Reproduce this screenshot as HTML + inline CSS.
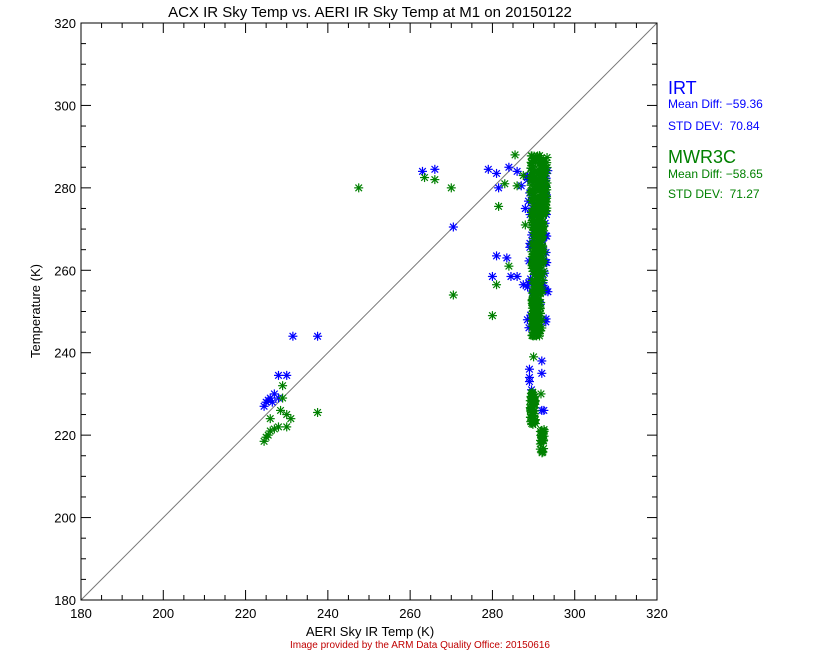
<!DOCTYPE html>
<html><head><meta charset="utf-8"><style>
body{margin:0;background:#fff;}
svg{display:block;font-family:"Liberation Sans",sans-serif;}
</style></head><body>
<svg id="s" width="840" height="650" xmlns="http://www.w3.org/2000/svg">
<rect width="840" height="650" fill="#fff"/>
<text x="370" y="17" font-size="15" text-anchor="middle">ACX IR Sky Temp vs. AERI IR Sky Temp at M1 on 20150122</text>
<text x="370" y="636" font-size="13" text-anchor="middle">AERI Sky IR Temp (K)</text>
<text x="420" y="648" font-size="10" fill="#c00000" text-anchor="middle">Image provided by the ARM Data Quality Office: 20150616</text>
<text transform="translate(40,311) rotate(-90)" font-size="13" text-anchor="middle">Temperature (K)</text>
<text x="668" y="94" font-size="18" fill="#0000ff">IRT</text>
<text x="668" y="108" font-size="12" fill="#0000ff">Mean Diff: −59.36</text>
<text x="668" y="130" font-size="12" fill="#0000ff">STD DEV:&#160;&#160;70.84</text>
<text x="668" y="163" font-size="18" fill="#008000">MWR3C</text>
<text x="668" y="178" font-size="12" fill="#008000">Mean Diff: −58.65</text>
<text x="668" y="198" font-size="12" fill="#008000">STD DEV:&#160;&#160;71.27</text>
<g id="ax"></g><g id="pts"></g>
</svg>
<script>
var ns="http://www.w3.org/2000/svg",ax=document.getElementById('ax'),pts=document.getElementById('pts');
var L=81,R=657,T=23,B=600;
function X(v){return L+(v-180)*(R-L)/140}function Y(v){return B-(v-180)*(B-T)/140}
function ln(p,x1,y1,x2,y2,c,w){var e=document.createElementNS(ns,'line');e.setAttribute('x1',x1);e.setAttribute('y1',y1);e.setAttribute('x2',x2);e.setAttribute('y2',y2);e.setAttribute('stroke',c);e.setAttribute('stroke-width',w||1);p.appendChild(e);}
function tx(s,x,y,a){var e=document.createElementNS(ns,'text');e.setAttribute('x',x);e.setAttribute('y',y);e.setAttribute('font-size','13');e.setAttribute('text-anchor',a);e.textContent=s;ax.appendChild(e);}
ln(ax,L,B,R,T,'#777',1);
var r=document.createElementNS(ns,'rect');r.setAttribute('x',L);r.setAttribute('y',T);r.setAttribute('width',R-L);r.setAttribute('height',B-T);r.setAttribute('fill','none');r.setAttribute('stroke','#000');ax.appendChild(r);
for(var v=180;v<=320;v+=5){var maj=(v%20==0),len=maj?10:5;var x=X(v),y=Y(v);
ln(ax,x,B,x,B-len,'#000');ln(ax,x,T,x,T+len,'#000');ln(ax,L,y,L+len,y,'#000');ln(ax,R,y,R-len,y,'#000');
if(maj){tx(v,x,B+18,'middle');tx(v,L-5,y+5,'end');}}
var seed=7;function rnd(){seed=(seed*16807)%2147483647;return seed/2147483647;}
function star(xv,yv,c){var x=X(xv),y=Y(yv),d=4.5,e=3.3;ln(pts,x-d,y,x+d,y,c,1.2);ln(pts,x,y-d,x,y+d,c,1.2);ln(pts,x-e,y-e,x+e,y+e,c,1.2);ln(pts,x-e,y+e,x+e,y-e,c,1.2);}
var B1='#0000ff',G='#008000';
[[224.5,227],[225,228],[226,229],[227,230],[228,229],[225.5,228.5],[226.5,228],[228,234.5],[230,234.5],[231.5,244],[237.5,244],[263,284],[266,284.5],[270.5,270.5],[279,284.5],[280,258.5],[281,283.5],[281,263.5],[281.5,280],[283.5,263],[284,285],[284.5,258.5],[286,258.5],[286,284],[287,280.5],[287.5,256.5],[288,275],[288.5,248],[289,236],[289,233],[289.5,231],[289,234],[292,238],[292,226],[292.5,226],[292,235],[292.5,268],[293,255],[292.5,262]].forEach(function(p){star(p[0],p[1],B1);});
for(var i=0;i<80;i++){star(288.5+rnd()*5,246+rnd()*40,B1);}
[[224.5,218.5],[225,219.5],[225.5,220],[226,221],[227,221.5],[228,222],[226,224],[228.5,226],[229,229],[229,232],[230,225],[230,222],[231,224],[237.5,225.5],[247.5,280],[263.5,282.5],[266,282],[270,280],[270.5,254],[280,249],[281,256.5],[281.5,275.5],[283,281],[284,261],[286,280.5],[285.5,288],[287.5,283],[288,271]].forEach(function(p){star(p[0],p[1],G);});
for(var i=0;i<400;i++){var yy=244+rnd()*44;var w=(yy>272)?4:(yy>255?3:2.2);var x0=(yy>272)?289.3:289.6;star(x0+rnd()*w,yy,G);}
for(var i=0;i<50;i++){star(289.2+rnd()*1.3,222.5+rnd()*8,G);}
for(var i=0;i<22;i++){star(291.6+rnd()*1,215.5+rnd()*6,G);}
[[290,239],[291.8,230],[292,248],[292,246]].forEach(function(p){star(p[0],p[1],G);});
</script>
</body></html>
